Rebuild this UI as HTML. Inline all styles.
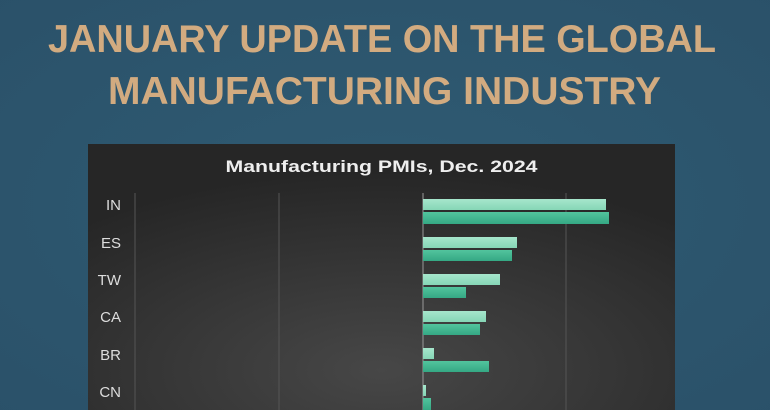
<!DOCTYPE html>
<html><head><meta charset="utf-8"><style>
html,body{margin:0;padding:0;width:770px;height:410px;overflow:hidden;background:#2d5870;}
</style></head><body>
<svg width="770" height="410" xmlns="http://www.w3.org/2000/svg" font-family="Liberation Sans, DejaVu Sans, sans-serif">
<defs>
<radialGradient id="bg" cx="0.5" cy="0.5" r="0.8">
<stop offset="0" stop-color="#2f5b73"/><stop offset="1" stop-color="#2a5068"/>
</radialGradient>
<radialGradient id="cb" cx="0.5" cy="0.85" r="0.75">
<stop offset="0" stop-color="#474747"/><stop offset="1" stop-color="#262626"/>
</radialGradient>
<linearGradient id="l" x1="0" y1="0" x2="0" y2="1"><stop offset="0" stop-color="#a6e6cc"/><stop offset="1" stop-color="#86d6b6"/></linearGradient>
<linearGradient id="d" x1="0" y1="0" x2="0" y2="1"><stop offset="0" stop-color="#52c49d"/><stop offset="1" stop-color="#35a884"/></linearGradient>
</defs>
<rect width="770" height="410" fill="url(#bg)"/>
<g fill="#d2ab80" font-weight="bold" font-size="39">
<text x="48" y="52" textLength="668" lengthAdjust="spacingAndGlyphs">JANUARY UPDATE ON THE GLOBAL</text>
<text x="108" y="104" textLength="553" lengthAdjust="spacingAndGlyphs">MANUFACTURING INDUSTRY</text>
</g>
<rect x="88" y="144" width="587" height="266" fill="url(#cb)"/>
<text x="381.5" y="172" fill="#eeeeee" font-size="17" font-weight="bold" text-anchor="middle" textLength="312" lengthAdjust="spacingAndGlyphs">Manufacturing PMIs, Dec. 2024</text>
<g stroke="#555" stroke-width="1">
<line x1="135" y1="193" x2="135" y2="410"/>
<line x1="279" y1="193" x2="279" y2="410"/>
<line x1="566" y1="193" x2="566" y2="410"/>
</g>
<line x1="423" y1="193" x2="423" y2="410" stroke="#999" stroke-width="1"/>
<g fill="#dddddd" font-size="15" text-anchor="end">
<text x="121" y="210">IN</text>
<text x="121" y="248">ES</text>
<text x="121" y="285">TW</text>
<text x="121" y="322">CA</text>
<text x="121" y="360">BR</text>
<text x="121" y="397">CN</text>
</g>
<g>
<rect x="423" y="199" width="183" height="11" fill="url(#l)"/>
<rect x="423" y="212" width="186" height="12" fill="url(#d)"/>
<rect x="423" y="237" width="94" height="11" fill="url(#l)"/>
<rect x="423" y="250" width="89" height="11" fill="url(#d)"/>
<rect x="423" y="274" width="77" height="11" fill="url(#l)"/>
<rect x="423" y="287" width="43" height="11" fill="url(#d)"/>
<rect x="423" y="311" width="63" height="11" fill="url(#l)"/>
<rect x="423" y="324" width="57" height="11" fill="url(#d)"/>
<rect x="423" y="348" width="11" height="11" fill="url(#l)"/>
<rect x="423" y="361" width="66" height="11" fill="url(#d)"/>
<rect x="423" y="385" width="3" height="11" fill="url(#l)"/>
<rect x="423" y="398" width="8" height="12" fill="url(#d)"/>
</g>
</svg>
</body></html>
